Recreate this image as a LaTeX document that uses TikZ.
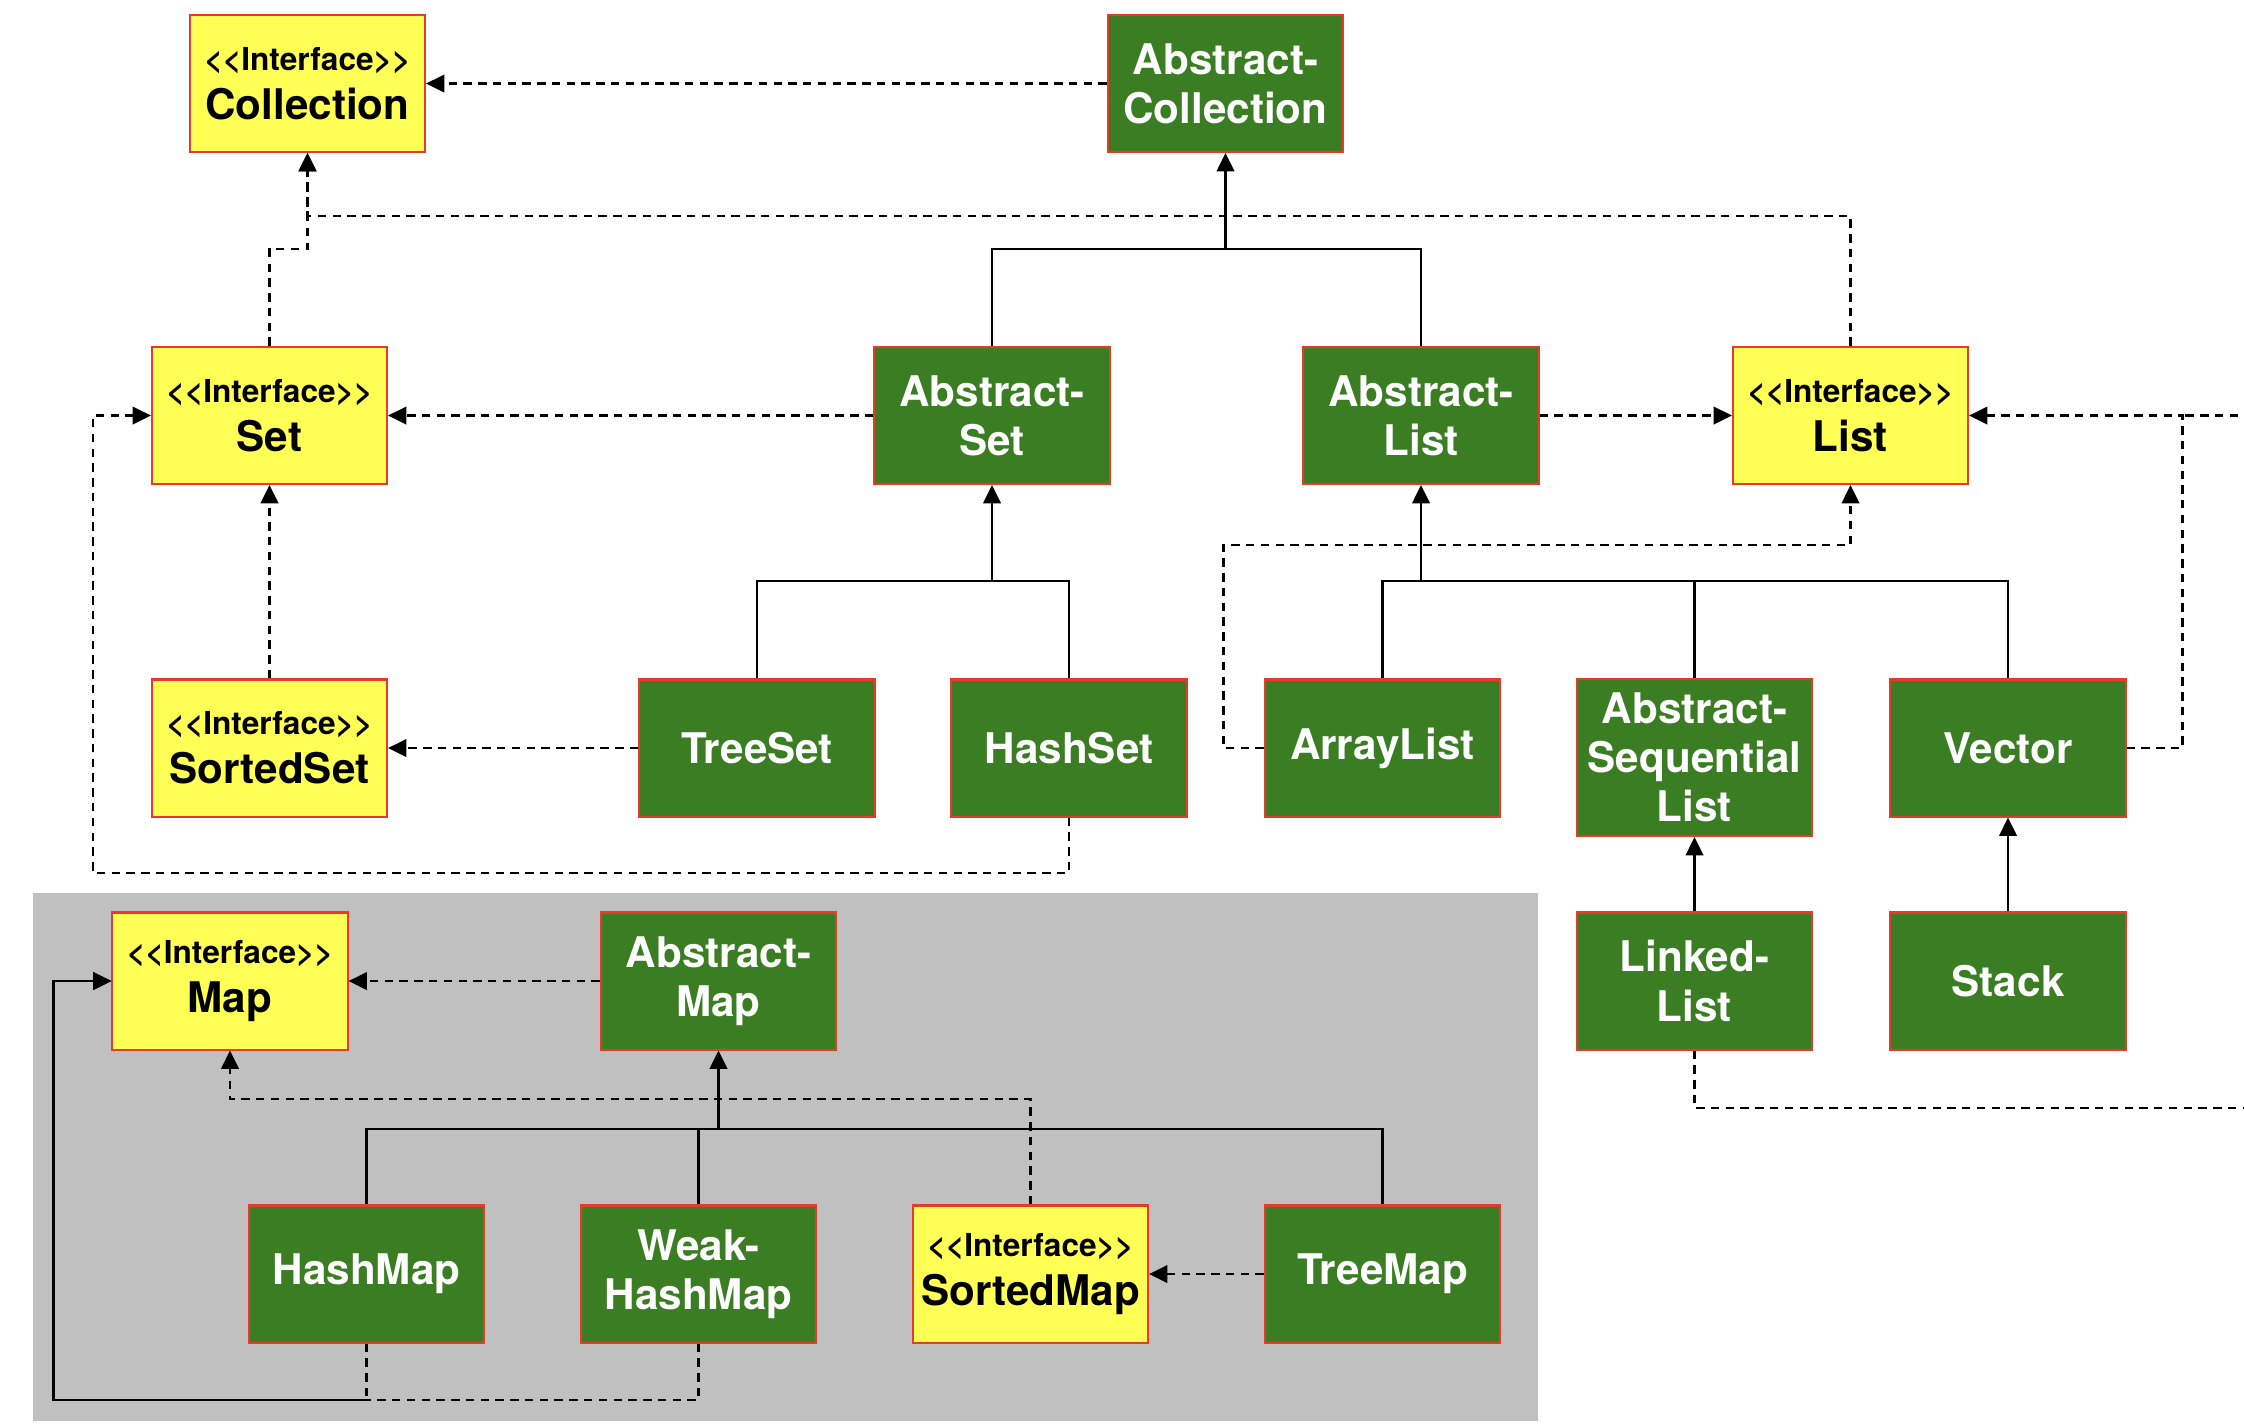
\documentclass[tikz,border=0pt]{standalone}
\usepackage{fontspec}
\setsansfont[Ligatures=TeXOff]{TeX Gyre Heros}
\usepackage{tikz}
\usetikzlibrary{arrows.meta}

\definecolor{ifacefill}{HTML}{FFFF55}
\definecolor{clsfill}{HTML}{3A7D23}
\definecolor{boxline}{HTML}{E8392B}
\definecolor{mapback}{HTML}{C0C0C0}

\newcommand{\stereo}{{\fontsize{9}{11}\selectfont\textless\kern0pt\textless Interface\textgreater\kern0pt\textgreater}}

\begin{document}
\begin{tikzpicture}[x=0.01cm, y=-0.01cm]
				\useasboundingbox (0,0) rectangle (2244,1426);
				\clip (0,0) rectangle (2244,1426);
				\fill[mapback] (33,893) rectangle (1538,1421);
				\begin{scope}[every node/.style = {rectangle, draw=boxline, line width=0.6pt,
						minimum width=2.35cm, minimum height=1.37cm, inner sep=0pt, align=center,
						font=\sffamily\bfseries\fontsize{12}{14}\selectfont},
					iface/.style = {fill=ifacefill, text=black},
					cls/.style = {fill=clsfill, text=white}]
					% collections
					\node[iface] (coll) at (307.5,83.5) {\stereo\\Collection};
					\node[cls] (abscoll) at (1225.5,83.5) {Abstract-\\Collection};
					\node[iface] (set) at (269.5,415.5) {\stereo\\Set};
					\node[cls] (absset) at (992,415.5) {Abstract-\\Set};
					\node[cls] (abslist) at (1421,415.5) {Abstract-\\List};
					\node[iface] (list) at (1850.5,415.5) {\stereo\\List};
					\node[iface] (sortedset) at (269.5,748) {\stereo\\SortedSet};
					\node[cls] (treeset) at (757,748) {TreeSet};
					\node[cls] (hashset) at (1069,748) {HashSet};
					\node[cls] (arraylist) at (1382.5,748) {ArrayList};
					\node[cls, minimum height=1.57cm] (absseq) at (1694.5,757.5) {Abstract-\\Sequential\\List};
					\node[cls] (vector) at (2008,748) {Vector};
					\node[cls] (linkedlist) at (1694.5,981) {Linked-\\List};
					\node[cls] (stack) at (2008,981) {Stack};
					% maps
					\node[iface] (map) at (230,981) {\stereo\\Map};
					\node[cls] (absmap) at (718.5,981) {Abstract-\\Map};
					\node[cls] (hashmap) at (366.5,1274) {HashMap};
					\node[cls] (weakhashmap) at (698.5,1274) {Weak-\\HashMap};
					\node[iface] (sortedmap) at (1030.5,1274) {\stereo\\SortedMap};
					\node[cls] (treemap) at (1382.5,1274) {TreeMap};
				\end{scope}
					\coordinate (jcoll) at (0,249);
					\coordinate (jlistup) at (0,216);
					\coordinate (jset) at (0,581);
					\coordinate (jmap) at (0,1129);
					\coordinate (jsmap) at (0,1099);
					\coordinate (setleft) at (93,873);
					\coordinate (alleft) at (1223.5,545);
					\coordinate (vecright) at (2182.5,415.5);
					\coordinate (llcorner) at (2256,1108);
				\coordinate (mapleft) at (53.5,1400);
				\begin{scope}[>={Triangle[length=5.2pt, width=5pt]},
						impl/.style = {draw=black, line width=0.6pt, dash pattern=on 2.4pt off 1.8pt},
						inherit/.style = {draw=black, line width=0.6pt}]
					\draw[impl, ->] (abscoll) -- (coll);
					\draw[impl, ->] (set.north) |- (coll.south |- jcoll) -- (coll.south);
					\draw[impl, ->] (list.north) |- (coll.south |- jlistup) -- (coll.south);
					\draw[inherit, ->] (absset.north) |- (abscoll.south |- jcoll) -- (abscoll.south);
					\draw[inherit] (abslist.north) |- (abscoll.south |- jcoll);
					\draw[impl, ->] (absset) -- (set);
					\draw[impl, ->] (abslist) -- (list);
					\draw[impl, ->] (sortedset) -- (set);
					\draw[impl, ->] (treeset) -- (sortedset);
					\draw[inherit, ->] (treeset.north) |- (absset.south |- jset) -- (absset.south);
					\draw[inherit] (hashset.north) |- (absset.south |- jset);
					\draw[impl, ->] (hashset.south) |- (setleft) |- (set.west);
					\draw[impl, ->] (arraylist.west) -| (alleft) -| (list.south);
					\draw[inherit, ->] (arraylist.north) |- (abslist.south |- jset) -- (abslist.south);
					\draw[inherit] (vector.north) |- (abslist.south |- jset);
					\draw[inherit] (absseq.north) -- (absseq.north |- jset);
					\draw[impl, ->] (vector.east) -| (vecright) -- (list.east);
					\draw[impl] (linkedlist.south) |- (llcorner) |- (vecright);
					\draw[inherit, ->] (linkedlist) -- (absseq);
					\draw[inherit, ->] (stack) -- (vector);
					\draw[impl, ->] (absmap) -- (map);
					\draw[inherit, ->] (hashmap.north) |- (absmap.south |- jmap) -- (absmap.south);
					\draw[inherit] (weakhashmap.north) -- (weakhashmap.north |- jmap);
					\draw[inherit] (treemap.north) |- (absmap.south |- jmap);
					\draw[impl, ->] (sortedmap.north) |- (map.south |- jsmap) -- (map.south);
					\draw[impl, ->] (treemap) -- (sortedmap);
					\draw[impl, ->] (hashmap.south) |- (mapleft) |- (map.west);
					\draw[impl, ->] (weakhashmap.south) |- (mapleft) |- (map.west);
				\end{scope}
			\end{tikzpicture}
\end{document}
